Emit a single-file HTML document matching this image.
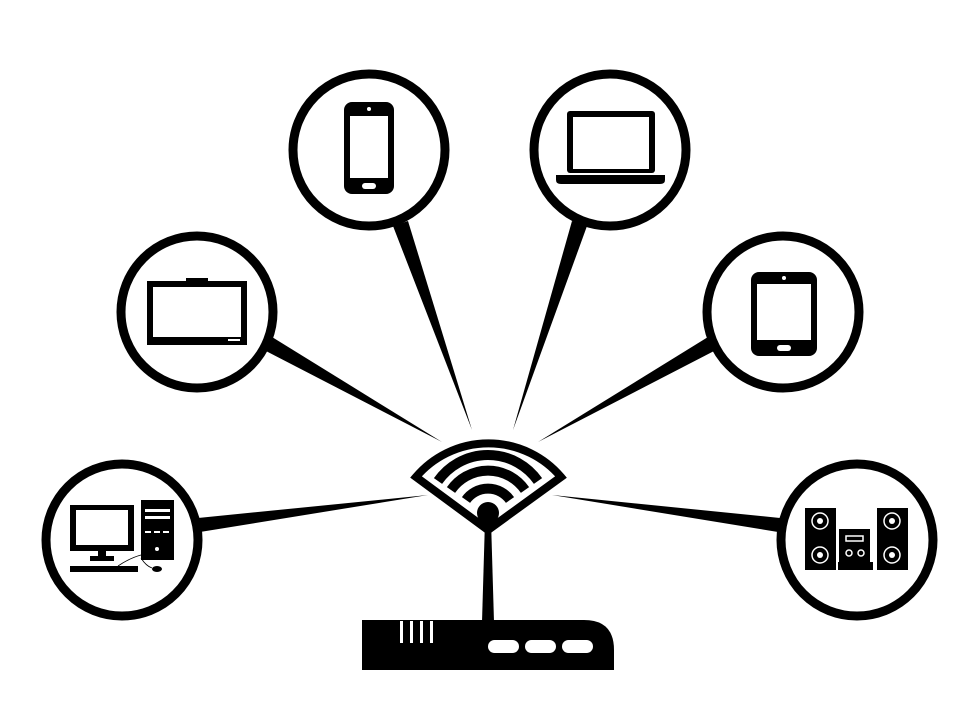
<!DOCTYPE html>
<html><head><meta charset="utf-8"><style>html,body{margin:0;padding:0;background:#fff}svg{display:block}</style></head>
<body>
<svg width="980" height="708" viewBox="0 0 980 708" xmlns="http://www.w3.org/2000/svg">
<rect width="980" height="708" fill="#fff"/>
<!-- connectors -->
<g fill="#000">
<polygon points="393,226 408,221 472,430"/>
<polygon points="572,221 587,226 513,430"/>
<polygon points="264,350 272,337 442,442"/>
<polygon points="708,337 716,350 538,442"/>
<polygon points="198,518 200,532 428,495"/>
<polygon points="780,518 778,532 552,495"/>
</g>
<!-- circles -->
<g fill="#fff" stroke="#000" stroke-width="9">
<circle cx="369" cy="150" r="76"/>
<circle cx="610" cy="150" r="76"/>
<circle cx="197" cy="312" r="76"/>
<circle cx="783" cy="312" r="76"/>
<circle cx="122" cy="540" r="76"/>
<circle cx="857" cy="540" r="76"/>
</g>
<!-- phone -->
<rect x="344" y="102" width="50" height="92" rx="8" fill="#000"/>
<rect x="350" y="116" width="38" height="62" fill="#fff"/>
<rect x="362" y="183" width="14" height="6" rx="3" fill="#fff"/>
<circle cx="369" cy="109" r="2" fill="#fff"/>
<!-- laptop -->
<rect x="567" y="111" width="88" height="62" rx="3" fill="#000"/>
<rect x="573" y="117" width="76" height="52" fill="#fff"/>
<path d="M556 175 H665 V180 Q665 184 660 184 H561 Q556 184 556 180Z" fill="#000"/>
<!-- TV -->
<rect x="147" y="281" width="100" height="64" fill="#000"/>
<rect x="153" y="287" width="88" height="50" fill="#fff"/>
<rect x="186" y="278" width="22" height="4" fill="#000"/>
<rect x="228" y="339" width="12" height="2" fill="#fff"/>
<!-- tablet -->
<rect x="751" y="272" width="66" height="84" rx="8" fill="#000"/>
<rect x="757" y="284" width="54" height="56" fill="#fff"/>
<rect x="777" y="345" width="14" height="6" rx="3" fill="#fff"/>
<circle cx="784" cy="278" r="2" fill="#fff"/>
<!-- desktop -->
<rect x="70" y="505" width="64" height="46" fill="#000"/>
<rect x="76" y="510" width="52" height="35" fill="#fff"/>
<rect x="98" y="551" width="8" height="6" fill="#000"/>
<rect x="90" y="556" width="24" height="5" fill="#000"/>
<rect x="70" y="566" width="68" height="6" fill="#000"/>
<rect x="141" y="500" width="33" height="60" fill="#000"/>
<rect x="145" y="509" width="25" height="3" fill="#fff"/>
<rect x="145" y="516" width="25" height="3" fill="#fff"/>
<rect x="145" y="531" width="6" height="2" fill="#fff"/><rect x="154" y="531" width="6" height="2" fill="#fff"/><rect x="163" y="531" width="6" height="2" fill="#fff"/>
<circle cx="157" cy="549" r="2" fill="#fff"/>
<ellipse cx="157" cy="569" rx="5" ry="3" fill="#000"/>
<path d="M118 566 Q130 558 141 555 M141 558 Q146 566 152 568" stroke="#000" stroke-width="0.8" fill="none"/>
<!-- stereo -->
<g fill="#000">
<rect x="805" y="508" width="31" height="62"/>
<rect x="877" y="508" width="31" height="62"/>
<rect x="839" y="529" width="31" height="35"/>
<rect x="838" y="562" width="35" height="8"/>
</g>
<g fill="none" stroke="#fff" stroke-width="1.5">
<circle cx="820" cy="521" r="8"/><circle cx="820" cy="555" r="8"/>
<circle cx="892" cy="521" r="8"/><circle cx="892" cy="555" r="8"/>
<rect x="846" y="536" width="17" height="5"/>
<circle cx="849" cy="553" r="3"/><circle cx="861" cy="553" r="3"/>
</g>
<g fill="#fff"><circle cx="820" cy="521" r="3"/><circle cx="820" cy="555" r="3"/><circle cx="892" cy="521" r="3"/><circle cx="892" cy="555" r="3"/></g>
<!-- wifi fan -->
<path d="M488 530 L416 477 A95 95 0 0 1 561 477 Z" fill="#fff" stroke="#000" stroke-width="8" stroke-linejoin="miter"/>
<g fill="none" stroke="#000" stroke-width="10">
<path d="M438 481 A61 61 0 0 1 538 481"/>
<path d="M451 490 A45 45 0 0 1 525 490"/>
<path d="M466 500 A27 27 0 0 1 510 500"/>
</g>
<circle cx="488" cy="513" r="11" fill="#000"/>
<!-- antenna -->
<polygon points="485,520 491,520 494,622 482,622" fill="#000"/>
<!-- router -->
<path d="M362 620 H584 Q614 620 614 650 V670 H362 Z" fill="#000"/>
<g fill="#fff">
<rect x="400" y="621" width="3" height="22"/><rect x="410" y="621" width="3" height="22"/>
<rect x="420" y="621" width="3" height="22"/><rect x="430" y="621" width="3" height="22"/>
<rect x="488" y="640" width="31" height="13" rx="6.5"/>
<rect x="525" y="640" width="31" height="13" rx="6.5"/>
<rect x="562" y="640" width="31" height="13" rx="6.5"/>
</g>
</svg>
</body></html>
